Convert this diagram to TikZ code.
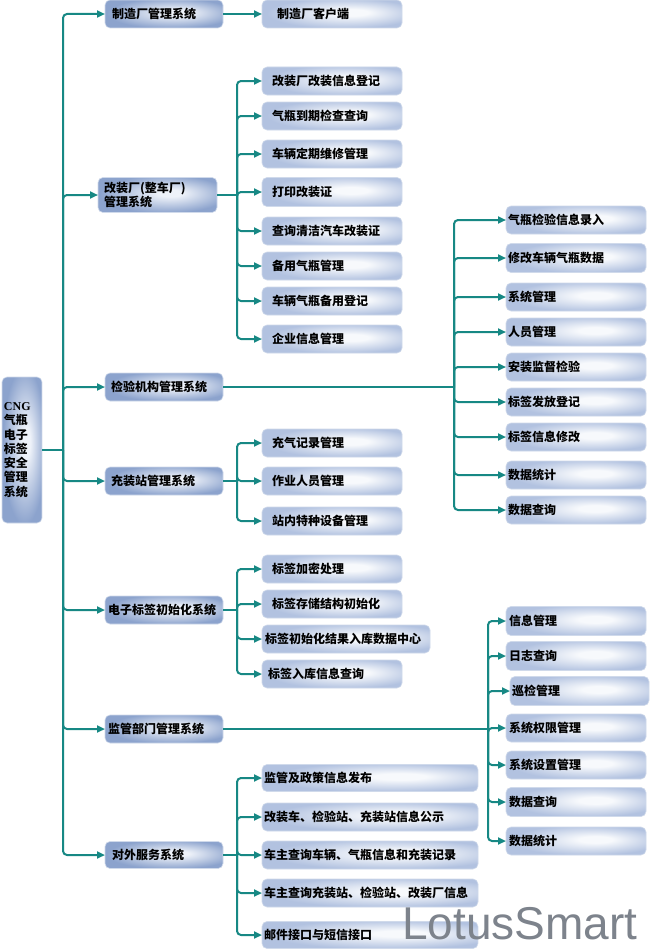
\documentclass[tikz,border=0pt]{standalone}
\usepackage{fontspec}
\usetikzlibrary{arrows.meta}
\newfontfamily\cjk{Noto Sans CJK SC}
\newfontfamily\lser{Liberation Serif}
\newfontfamily\wmf{Liberation Sans}
\definecolor{lnk}{HTML}{178884}
\definecolor{bAo}{HTML}{8CA3CD}
\definecolor{bAi}{HTML}{EEF2F9}
\definecolor{bBo}{HTML}{B2C2E0}
\definecolor{bBi}{HTML}{F7F9FC}
\definecolor{bdr}{HTML}{D0DAEB}
\definecolor{wmc}{HTML}{7D838C}
\pgfdeclareradialshading{shA}{\pgfpoint{6bp}{3bp}}{color(0bp)=(bAi); color(5bp)=(bAi); color(27bp)=(bAo); color(50bp)=(bAo)}
\pgfdeclareradialshading{shB}{\pgfpoint{8bp}{3bp}}{color(0bp)=(bBi); color(6bp)=(bBi); color(27bp)=(bBo); color(50bp)=(bBo)}
% \bx{style}{name}{x left}{y centre}{x right}{height}{text inset}{text}
\newcommand\bx[8]{%
  \pgfmathsetmacro\bw{#5-#3}%
  \pgfmathsetmacro\tw{#5-#3-2*#7}%
  \node[#1, minimum width=\bw pt, minimum height=#6pt, text width=\tw pt, inner xsep=#7pt] (#2) at (#3,#4) {#8};}
\begin{document}
\begin{tikzpicture}[x=1pt,y=-1pt,
  bxs/.style={anchor=west, rounded corners=5pt, shade, draw=bdr, line width=0.6pt,
    inner ysep=0pt, outer sep=0pt, align=left, text=black,
    font=\cjk\bfseries\fontsize{12}{14.3}\selectfont},
  lvA/.style={bxs, shading=shA},
  lvB/.style={bxs, shading=shB},
  lnk line/.style={draw=lnk, line width=2pt},
  arr/.style={lnk line, rounded corners=4pt, -{Triangle[length=8pt,width=7pt]}}]
\fill[white] (0,0) rectangle (650,950);
\useasboundingbox (0,0) rectangle (650,950);
% root
\bx{lvA}{root}{2}{450}{42}{146}{2}{{\lser CNG}\\气瓶\\电子\\标签\\安全\\管理\\系统}
% level 1
\bx{lvA}{m1}{105}{14}{223}{28}{7}{制造厂管理系统}
\bx{lvA}{m2}{98}{195}{217}{35}{6}{改装厂(整车厂)\\管理系统}
\bx{lvA}{m3}{105}{387}{223}{28}{6}{检验机构管理系统}
\bx{lvA}{m4}{105}{481}{223}{28}{6}{充装站管理系统}
\bx{lvA}{m5}{105}{610}{223}{28}{3}{电子标签初始化系统}
\bx{lvA}{m6}{105}{729}{223}{28}{3}{监管部门管理系统}
\bx{lvA}{m7}{105}{855}{223}{27}{7}{对外服务系统}
% level 2
\bx{lvB}{c11}{262}{14}{402}{28}{15}{制造厂客户端}
\bx{lvB}{c21}{262}{81}{402}{28}{10}{改装厂改装信息登记}
\bx{lvB}{c22}{262}{116}{402}{28}{10}{气瓶到期检查查询}
\bx{lvB}{c23}{262}{154}{402}{28}{10}{车辆定期维修管理}
\bx{lvB}{c24}{262}{192}{402}{29}{10}{打印改装证}
\bx{lvB}{c25}{262}{231}{402}{28}{10}{查询清洁汽车改装证}
\bx{lvB}{c26}{262}{266}{402}{28}{10}{备用气瓶管理}
\bx{lvB}{c27}{262}{301}{402}{28}{10}{车辆气瓶备用登记}
\bx{lvB}{c28}{262}{339}{402}{28}{10}{企业信息管理}
\bx{lvB}{c31}{506}{220}{646}{28}{2}{气瓶检验信息录入}
\bx{lvB}{c32}{506}{258}{646}{29}{2}{修改车辆气瓶数据}
\bx{lvB}{c33}{506}{297}{646}{28}{2}{系统管理}
\bx{lvB}{c34}{506}{332}{646}{28}{2}{人员管理}
\bx{lvB}{c35}{506}{367}{646}{28}{2}{安装监督检验}
\bx{lvB}{c36}{506}{402}{646}{28}{2}{标签发放登记}
\bx{lvB}{c37}{506}{437}{646}{28}{2}{标签信息修改}
\bx{lvB}{c38}{506}{475}{646}{28}{2}{数据统计}
\bx{lvB}{c39}{506}{510}{646}{28}{2}{数据查询}
\bx{lvB}{c41}{262}{443}{402}{28}{10}{充气记录管理}
\bx{lvB}{c42}{262}{481}{402}{28}{10}{作业人员管理}
\bx{lvB}{c43}{262}{521}{402}{28}{10}{站内特种设备管理}
\bx{lvB}{c51}{262}{569}{402}{28}{10}{标签加密处理}
\bx{lvB}{c52}{262}{604}{402}{28}{10}{标签存储结构初始化}
\bx{lvB}{c53}{262}{639}{430}{28}{3}{标签初始化结果入库数据中心}
\bx{lvB}{c54}{262}{674}{402}{28}{6}{标签入库信息查询}
\bx{lvB}{c61}{506}{621}{646}{29}{3}{信息管理}
\bx{lvB}{c62}{506}{656}{646}{29}{3}{日志查询}
\bx{lvB}{c63}{510}{691}{649}{29}{2}{巡检管理}
\bx{lvB}{c64}{506}{728}{646}{28}{3}{系统权限管理}
\bx{lvB}{c65}{506}{765}{646}{28}{3}{系统设置管理}
\bx{lvB}{c66}{506}{802}{646}{29}{3}{数据查询}
\bx{lvB}{c67}{506}{841}{646}{28}{3}{数据统计}
\bx{lvB}{c71}{262}{778}{478}{27}{2}{监管及政策信息发布}
\bx{lvB}{c72}{262}{817}{478}{28}{2}{改装车、检验站、充装站信息公示}
\bx{lvB}{c73}{262}{855}{478}{28}{2}{车主查询车辆、气瓶信息和充装记录}
\bx{lvB}{c74}{262}{893}{478}{28}{2}{车主查询充装站、检验站、改装厂信息}
\bx{lvB}{c75}{262}{935}{478}{27}{2}{邮件接口与短信接口}
% connectors
\coordinate (j0) at (63,450);
\draw[lnk line] (root.east) -- (j0);
\foreach \i in {1,...,7} \draw[arr] (j0) |- (m\i.west);
\draw[arr] (m1.east) -- (c11.west);
\path (m2.east) ++(20,0) coordinate (j2);
\draw[lnk line] (m2.east) -- (j2);
\foreach \i in {1,...,8} \draw[arr] (j2) |- (c2\i.west);
\path (m3.east) ++(231,0) coordinate (j3);
\draw[lnk line] (m3.east) -- (j3);
\foreach \i in {1,...,9} \draw[arr] (j3) |- (c3\i.west);
\path (m4.east) ++(14,0) coordinate (j4);
\draw[lnk line] (m4.east) -- (j4);
\foreach \i in {1,...,3} \draw[arr] (j4) |- (c4\i.west);
\path (m5.east) ++(14,0) coordinate (j5);
\draw[lnk line] (m5.east) -- (j5);
\foreach \i in {1,...,4} \draw[arr] (j5) |- (c5\i.west);
\path (m6.east) ++(265,0) coordinate (j6);
\draw[lnk line] (m6.east) -- (j6);
\foreach \i in {1,...,7} \draw[arr] (j6) |- (c6\i.west);
\path (m7.east) ++(14,0) coordinate (j7);
\draw[lnk line] (m7.east) -- (j7);
\foreach \i in {1,...,5} \draw[arr] (j7) |- (c7\i.west);
% watermark
\node[anchor=base west, inner sep=0pt, text=wmc, font=\wmf\fontsize{46}{46}\selectfont] (wm) at (402,939) {LotusSmart};
\end{tikzpicture}
\end{document}
